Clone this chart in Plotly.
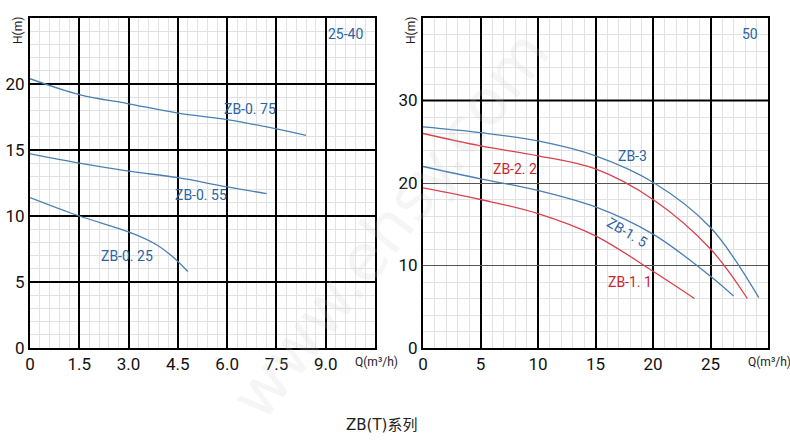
import plotly.graph_objects as go

# left chart (25-40)
q_075 = [0, 1.5, 3.0, 4.5, 6.0, 7.5, 8.4]
h_075 = [20.4, 19.2, 18.5, 17.8, 17.3, 16.6, 16.1]
q_055 = [0, 1.5, 3.0, 4.5, 6.0, 7.2]
h_055 = [14.7, 14.0, 13.4, 12.9, 12.2, 11.7]
q_025 = [0, 1.5, 3.0, 3.8, 4.3, 4.8]
h_025 = [11.4, 10.0, 8.8, 7.9, 7.0, 5.8]

# right chart (50)
q_3 = [0, 5, 10, 15, 20, 25, 29.2]
h_3 = [26.8, 26.1, 25.1, 23.3, 20.1, 14.6, 6.1]
q_22 = [0, 5, 10, 15, 20, 25, 28.2]
h_22 = [26.0, 24.5, 23.3, 21.7, 18.0, 12.0, 6.0]
q_15 = [0, 5, 10, 15, 20, 25, 27.0]
h_15 = [22.0, 20.5, 19.1, 17.1, 13.8, 8.7, 6.3]
q_11 = [0, 5, 10, 15, 20, 23.6]
h_11 = [19.4, 18.0, 16.3, 13.6, 9.3, 6.0]

left_xticks = [0, 1.5, 3.0, 4.5, 6.0, 7.5, 9.0]
left_xtext = ["0", "1.5", "3.0", "4.5", "6.0", "7.5", "9.0"]
left_yticks = [0, 5, 10, 15, 20]
right_xticks = [0, 5, 10, 15, 20, 25]
right_yticks = [0, 10, 20, 30]

BLUE = "#4a7fb3"
RED = "#d8404c"
BLUE_TXT = "#2a64a4"
RED_TXT = "#c9262f"
NARROW = "Roboto, DejaVu Sans Condensed, sans-serif"

W, H = 790, 443
def fx(px):
    return px / W
def fy(py):
    return 1 - py / H

fig = go.Figure()

left = [(q_075, h_075, BLUE), (q_055, h_055, BLUE), (q_025, h_025, BLUE)]
for q, h, c in left:
    fig.add_trace(go.Scatter(x=q, y=h, mode="lines", line=dict(color=c, width=1.3, shape="spline"),
                             xaxis="x", yaxis="y", showlegend=False, hoverinfo="skip"))

right = [(q_3, h_3, BLUE), (q_22, h_22, RED), (q_15, h_15, BLUE), (q_11, h_11, RED)]
for q, h, c in right:
    fig.add_trace(go.Scatter(x=q, y=h, mode="lines", line=dict(color=c, width=1.3, shape="spline"),
                             xaxis="x2", yaxis="y2", showlegend=False, hoverinfo="skip"))

tickfont = dict(family=NARROW, size=17, color="#111")
common = dict(showline=True, linecolor="black", linewidth=2, mirror=True, ticks="",
              zeroline=False, tickfont=tickfont, fixedrange=True, automargin=False)

fig.update_layout(
    width=W, height=H, margin=dict(l=0, r=0, t=0, b=0),
    paper_bgcolor="white", plot_bgcolor="white",
    xaxis=dict(domain=[fx(30), fx(375)], range=[0, 10.5], tickvals=left_xticks, ticktext=left_xtext,
               showgrid=True, gridcolor="black", gridwidth=2,
               minor=dict(dtick=0.3, tick0=0, showgrid=True, gridcolor="#e2e2e2", gridwidth=1),
               anchor="y", **common),
    yaxis=dict(domain=[fy(348), fy(18)], range=[0, 25], tickvals=left_yticks,
               showgrid=True, gridcolor="black", gridwidth=2,
               minor=dict(dtick=1, tick0=0, showgrid=True, gridcolor="#e2e2e2", gridwidth=1),
               anchor="x", **common),
    xaxis2=dict(domain=[fx(423), fx(768)], range=[0, 30], tickvals=right_xticks,
                showgrid=True, gridcolor="black", gridwidth=2,
                minor=dict(dtick=1, tick0=0, showgrid=True, gridcolor="#e2e2e2", gridwidth=1),
                anchor="y2", **common),
    yaxis2=dict(domain=[fy(348), fy(18)], range=[0, 40], tickvals=right_yticks,
                showgrid=True, gridcolor="#555", gridwidth=1,
                minor=dict(dtick=2, tick0=0, showgrid=True, gridcolor="#e2e2e2", gridwidth=1),
                anchor="x2", **common),
)

# thick line at H=30 on the right chart
fig.add_shape(type="line", xref="x2 domain", yref="y2", x0=0, x1=1, y0=30, y1=30,
              line=dict(color="black", width=2))

def label(text, x, y, xref, yref, color, size=14, angle=0, font=NARROW):
    fig.add_annotation(text=text, x=x, y=y, xref=xref, yref=yref, showarrow=False,
                       xanchor="center", yanchor="middle",
                       textangle=angle, font=dict(family=font, size=size, color=color))

label("ZB-0. 75", 6.7, 18.1, "x", "y", BLUE_TXT)
label("ZB-0. 55", 5.2, 11.6, "x", "y", BLUE_TXT)
label("ZB-0. 25", 2.95, 7.0, "x", "y", BLUE_TXT)
label("25-40", 9.6, 23.8, "x", "y", BLUE_TXT)

label("ZB-3", 18.2, 23.3, "x2", "y2", BLUE_TXT)
label("ZB-2. 2", 8.0, 21.7, "x2", "y2", RED_TXT)
label("ZB-1. 5", 17.7, 14.0, "x2", "y2", BLUE_TXT, angle=30)
label("ZB-1. 1", 18.0, 8.0, "x2", "y2", RED_TXT)
label("50", 28.4, 38.0, "x2", "y2", BLUE_TXT)

# axis titles
for xp in (18, 411):
    label("H(m)", fx(xp), fy(31), "paper", "paper", "#222", size=12, angle=-90)
for xp in (769, 376):
    label("Q(m³/h)", fx(xp), fy(362), "paper", "paper", "#222", size=12)

# faint watermark
label("www.ehsy.com", fx(390), fy(225), "paper", "paper", "rgba(200,200,200,0.18)",
      size=64, angle=-52, font="DejaVu Sans")

label("ZB(T)系列", fx(381), fy(425), "paper", "paper", "#222", size=15,
      font="DejaVu Sans, Noto Sans CJK SC")

fig.write_html("out.html", config={"displayModeBar": False},
               post_script="document.body.style.margin='0';")
